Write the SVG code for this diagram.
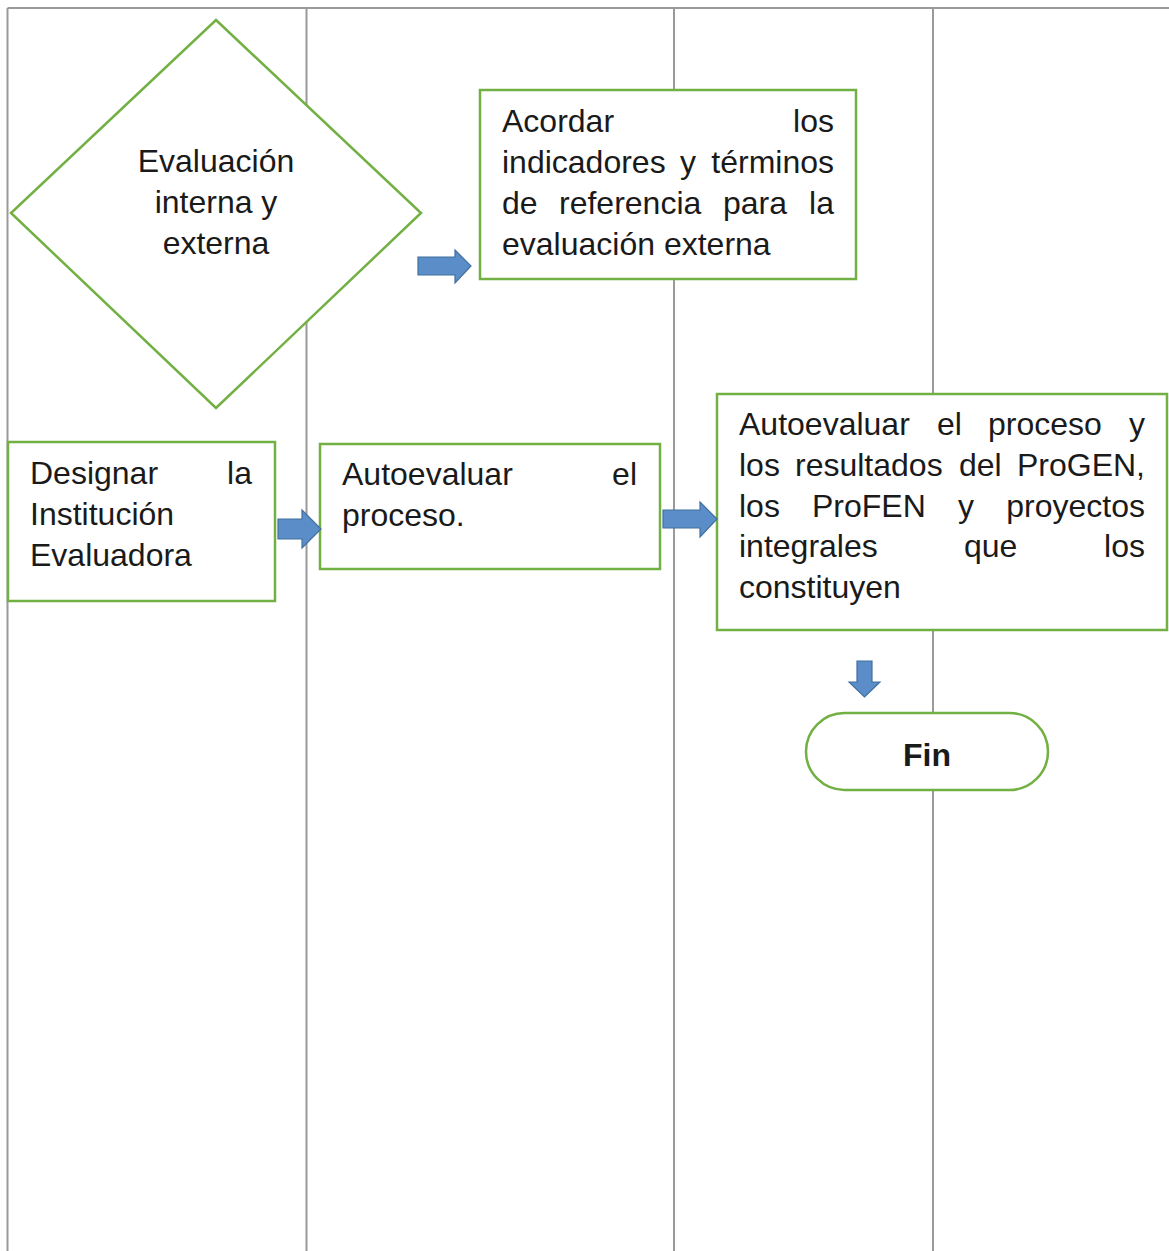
<svg xmlns="http://www.w3.org/2000/svg" width="1169" height="1251" viewBox="0 0 1169 1251">
<style>
.lane{stroke:#9a9a9a;stroke-width:2;fill:none}
.node{fill:#ffffff;stroke:#72b043;stroke-width:2.5}
.t{font-family:"Liberation Sans",Arial,sans-serif;font-size:32px;fill:#1a1a1a}
.b{font-weight:bold}
.arr{fill:#5b8ec8;stroke:#41709e;stroke-width:1.2}
</style>
<rect width="1169" height="1251" fill="#ffffff"/>
<g id="lanes">
<line class="lane" x1="7.5" y1="8" x2="1169" y2="8"/>
<line class="lane" x1="7.5" y1="8" x2="7.5" y2="1251"/>
<line class="lane" x1="306.5" y1="8" x2="306.5" y2="1251"/>
<line class="lane" x1="674" y1="8" x2="674" y2="1251"/>
<line class="lane" x1="933" y1="8" x2="933" y2="1251"/>
</g>
<g id="decision">
<polygon class="node" points="216,20 421,213 216,408 11,213"/>
<text class="t" x="216" y="172" text-anchor="middle">Evaluación</text>
<text class="t" x="216" y="213" text-anchor="middle">interna y</text>
<text class="t" x="216" y="254" text-anchor="middle">externa</text>
</g>
<g id="acordar">
<rect class="node" x="480" y="90" width="376" height="189"/>
<text class="t" x="502" y="132">Acordar</text>
<text class="t" x="834" y="132" text-anchor="end">los</text>
<text class="t" x="502" y="173">indicadores</text>
<text class="t" x="680" y="173">y</text>
<text class="t" x="834" y="173" text-anchor="end">términos</text>
<text class="t" x="502" y="214">de</text>
<text class="t" x="559" y="214">referencia</text>
<text class="t" x="723" y="214">para</text>
<text class="t" x="834" y="214" text-anchor="end">la</text>
<text class="t" x="502" y="255">evaluación externa</text>
</g>
<g id="designar">
<rect class="node" x="8" y="442" width="267" height="159"/>
<text class="t" x="30" y="484">Designar</text>
<text class="t" x="252" y="484" text-anchor="end">la</text>
<text class="t" x="30" y="525">Institución</text>
<text class="t" x="30" y="566">Evaluadora</text>
</g>
<g id="autoevaluar1">
<rect class="node" x="320" y="444" width="340" height="125"/>
<text class="t" x="342" y="485">Autoevaluar</text>
<text class="t" x="637" y="485" text-anchor="end">el</text>
<text class="t" x="342" y="526">proceso.</text>
</g>
<g id="autoevaluar2">
<rect class="node" x="717" y="394" width="450" height="236"/>
<text class="t" x="739" y="435">Autoevaluar</text>
<text class="t" x="937" y="435">el</text>
<text class="t" x="988" y="435">proceso</text>
<text class="t" x="1145" y="435" text-anchor="end">y</text>
<text class="t" x="739" y="476">los</text>
<text class="t" x="795" y="476">resultados</text>
<text class="t" x="959" y="476">del</text>
<text class="t" x="1145" y="476" text-anchor="end">ProGEN,</text>
<text class="t" x="739" y="517">los</text>
<text class="t" x="812" y="517">ProFEN</text>
<text class="t" x="958" y="517">y</text>
<text class="t" x="1145" y="517" text-anchor="end">proyectos</text>
<text class="t" x="739" y="557">integrales</text>
<text class="t" x="964" y="557">que</text>
<text class="t" x="1145" y="557" text-anchor="end">los</text>
<text class="t" x="739" y="598">constituyen</text>
</g>
<g id="fin">
<rect class="node" x="806" y="713" width="242" height="77" rx="38.5" ry="38.5"/>
<text class="t b" x="927" y="766" text-anchor="middle">Fin</text>
</g>
<g id="connectors">
<polygon class="arr" points="418,257 455,257 455,250 471,266 455,283 455,275 418,275"/>
<polygon class="arr" points="278,519 302,519 302,510 321,529 302,548 302,539 278,539"/>
<polygon class="arr" points="663,510 700,510 700,502 717,519 700,537 700,528 663,528"/>
<polygon class="arr" points="857,661 872,661 872,682 880,682 864.5,697 849,682 857,682"/>
</g>
</svg>
